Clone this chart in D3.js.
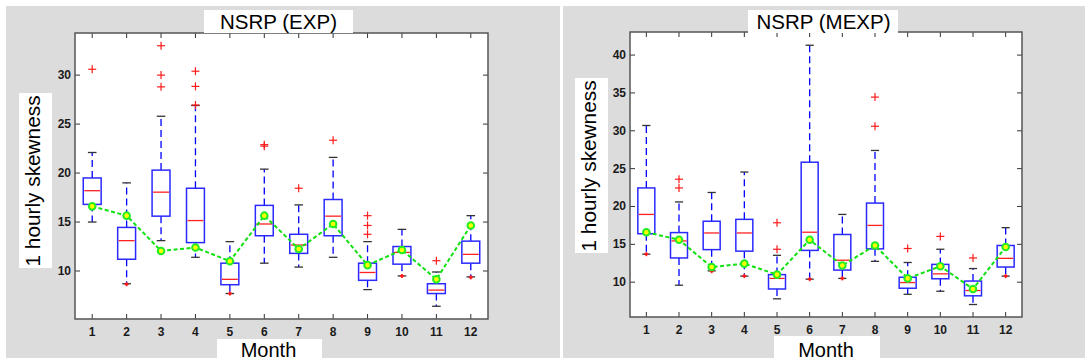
<!DOCTYPE html>
<html>
<head>
<meta charset="utf-8">
<script src="https://cdn.jsdelivr.net/npm/d3@7"></script>
<style>
  body { margin: 0; background: #fff; }
  text { font-family: "Liberation Sans", Arial, sans-serif; }
</style>
</head>
<body>
<div id="chart"></div>
<script>
// monthly 1 hourly skewness box plots, two NSRP variants

var months = [1, 2, 3, 4, 5, 6, 7, 8, 9, 10, 11, 12];

// NSRP (EXP)
var expLo   = [15.0, 8.7, 13.1, 11.4, 7.7, 10.8, 10.4, 11.4, 8.1, 9.5, 6.4, 9.4];
var expQ1   = [16.8, 11.2, 15.6, 12.9, 8.6, 13.6, 11.8, 13.6, 9.05, 10.7, 7.7, 10.8];
var expMed  = [18.2, 13.1, 18.05, 15.15, 9.15, 14.8, 12.65, 15.6, 9.85, 11.9, 8.05, 11.7];
var expQ3   = [19.5, 14.45, 20.3, 18.45, 10.8, 16.7, 13.75, 17.3, 10.8, 12.5, 8.7, 13.05];
var expHi   = [22.1, 19.0, 25.8, 26.9, 13.0, 20.4, 16.75, 21.6, 13.0, 14.25, 9.9, 15.65];
var expMean = [16.6, 15.65, 12.05, 12.4, 11.0, 15.65, 12.25, 14.8, 10.6, 12.15, 9.15, 14.65];
var expOut  = [[30.6], [], [33.0, 30.0, 28.8], [30.4, 28.85, 26.95], [], [22.9, 22.75], [18.45], [23.35], [15.65, 14.65, 13.75], [], [11.05], []];
var expLowMark = [null, 8.65, null, null, 7.7, null, null, null, null, 9.5, null, 9.35];
var expTicks = [10, 15, 20, 25, 30];

// NSRP (MEXP)
var mexpLo   = [13.7, 9.6, 11.5, 10.8, 7.8, 10.4, 10.5, 12.75, 8.4, 8.8, 7.05, 10.8];
var mexpQ1   = [16.4, 13.2, 14.3, 14.1, 9.1, 14.2, 11.6, 14.4, 9.2, 10.45, 8.2, 12.0];
var mexpMed  = [18.95, 15.45, 16.5, 16.5, 10.5, 16.6, 12.9, 17.5, 9.95, 11.1, 8.9, 13.15];
var mexpQ3   = [22.45, 16.55, 18.05, 18.3, 11.0, 25.85, 16.3, 20.45, 10.65, 12.35, 10.15, 14.85];
var mexpHi   = [30.7, 20.6, 21.85, 24.55, 13.55, 41.3, 18.95, 27.4, 12.6, 14.35, 11.8, 17.2];
var mexpMean = [16.6, 15.6, 12.0, 12.45, 11.0, 15.6, 12.2, 14.85, 10.5, 12.1, 9.1, 14.65];
var mexpOut  = [[], [23.6, 22.45], [], [], [17.85, 14.35], [], [], [34.45, 30.6], [14.45], [16.05], [13.2], []];
var mexpLowMark = [13.7, null, 11.45, 10.8, null, 10.4, 10.5, null, null, null, null, 10.8];
var mexpTicks = [10, 15, 20, 25, 30, 35, 40];

var svg = d3.select("#chart").append("svg")
  .attr("width", 1085)
  .attr("height", 362);

function toRows(lo, q1, med, q3, hi, mean, out, lowMark) {
  return months.map(function (m, i) {
    return { month: m, lo: lo[i], q1: q1[i], med: med[i], q3: q3[i], hi: hi[i],
             mean: mean[i], out: out[i], lowMark: lowMark[i] };
  });
}

function drawPanel(p) {
  var g = svg.append("g");

  // gray figure background
  g.append("rect")
    .attr("x", p.bg[0]).attr("y", p.bg[1])
    .attr("width", p.bg[2]).attr("height", p.bg[3])
    .attr("fill", "#dcdcdc");

  var x = d3.scaleLinear().domain([0.5, 12.5]).range([p.left, p.right]);
  var y = d3.scaleLinear().domain(p.yDomain).range([p.bottom, p.top]);
  var step = x(2) - x(1);
  var bw = step * 0.52;
  var cw = step * 0.25;

  // axes area
  g.append("rect")
    .attr("x", p.left).attr("y", p.top)
    .attr("width", p.right - p.left).attr("height", p.bottom - p.top)
    .attr("fill", "#fff");

  // inward ticks, all four sides
  var tk = g.append("g").attr("stroke", "#333").attr("stroke-width", 1);
  months.forEach(function (m) {
    tk.append("line").attr("x1", x(m)).attr("x2", x(m)).attr("y1", p.bottom).attr("y2", p.bottom - 5);
    tk.append("line").attr("x1", x(m)).attr("x2", x(m)).attr("y1", p.top).attr("y2", p.top + 5);
  });
  p.ticks.forEach(function (t) {
    tk.append("line").attr("x1", p.left).attr("x2", p.left + 5).attr("y1", y(t)).attr("y2", y(t));
    tk.append("line").attr("x1", p.right).attr("x2", p.right - 5).attr("y1", y(t)).attr("y2", y(t));
  });

  // tick labels
  g.selectAll(".xl").data(months).enter().append("text")
    .attr("x", function (d) { return x(d); })
    .attr("y", p.bottom + 17)
    .attr("text-anchor", "middle")
    .attr("font-size", 12).attr("font-weight", "bold").attr("fill", "#1a1a1a")
    .text(function (d) { return d; });
  g.selectAll(".yl").data(p.ticks).enter().append("text")
    .attr("x", p.left - 4)
    .attr("y", function (d) { return y(d) + 4; })
    .attr("text-anchor", "end")
    .attr("font-size", 12).attr("font-weight", "bold").attr("fill", "#1a1a1a")
    .text(function (d) { return d; });

  var boxes = g.selectAll(".box").data(p.rows).enter().append("g");

  // whiskers
  boxes.append("line")
    .attr("x1", function (d) { return x(d.month); }).attr("x2", function (d) { return x(d.month); })
    .attr("y1", function (d) { return y(d.q3); }).attr("y2", function (d) { return y(d.hi); })
    .attr("stroke", "#0000ff").attr("stroke-width", 1.3).attr("stroke-dasharray", "7,4");
  boxes.append("line")
    .attr("x1", function (d) { return x(d.month); }).attr("x2", function (d) { return x(d.month); })
    .attr("y1", function (d) { return y(d.q1); }).attr("y2", function (d) { return y(d.lo); })
    .attr("stroke", "#0000ff").attr("stroke-width", 1.3).attr("stroke-dasharray", "7,4");
  boxes.append("line")
    .attr("x1", function (d) { return x(d.month) - cw / 2; }).attr("x2", function (d) { return x(d.month) + cw / 2; })
    .attr("y1", function (d) { return y(d.hi); }).attr("y2", function (d) { return y(d.hi); })
    .attr("stroke", "#333").attr("stroke-width", 1.3);
  boxes.append("line")
    .attr("x1", function (d) { return x(d.month) - cw / 2; }).attr("x2", function (d) { return x(d.month) + cw / 2; })
    .attr("y1", function (d) { return y(d.lo); }).attr("y2", function (d) { return y(d.lo); })
    .attr("stroke", "#333").attr("stroke-width", 1.3);

  // box
  boxes.append("rect")
    .attr("x", function (d) { return x(d.month) - bw / 2; })
    .attr("y", function (d) { return y(d.q3); })
    .attr("width", bw)
    .attr("height", function (d) { return y(d.q1) - y(d.q3); })
    .attr("fill", "#fff").attr("stroke", "#2a2aff").attr("stroke-width", 1.5);
  // median
  boxes.append("line")
    .attr("x1", function (d) { return x(d.month) - bw / 2 + 1; }).attr("x2", function (d) { return x(d.month) + bw / 2 - 1; })
    .attr("y1", function (d) { return y(d.med); }).attr("y2", function (d) { return y(d.med); })
    .attr("stroke", "#ff2020").attr("stroke-width", 1.3);

  // outliers
  var outs = [];
  p.rows.forEach(function (d) {
    d.out.forEach(function (v) { outs.push({ month: d.month, v: v, s: 4 }); });
    if (d.lowMark !== null) outs.push({ month: d.month, v: d.lowMark, s: 2 });
  });
  var og = g.selectAll(".out").data(outs).enter().append("g")
    .attr("transform", function (d) { return "translate(" + x(d.month) + "," + y(d.v) + ")"; })
    .attr("stroke", "#ff1a1a").attr("stroke-width", function (d) { return d.s > 2 ? 1.2 : 1.8; });
  og.append("line").attr("x1", function (d) { return -d.s; }).attr("x2", function (d) { return d.s; });
  og.append("line").attr("y1", function (d) { return -d.s; }).attr("y2", function (d) { return d.s; });

  // mean line
  var line = d3.line()
    .x(function (d) { return x(d.month); })
    .y(function (d) { return y(d.mean); });
  g.append("path")
    .datum(p.rows)
    .attr("d", line)
    .attr("fill", "none").attr("stroke", "#11e011").attr("stroke-width", 2).attr("stroke-dasharray", "4,2.5");
  g.selectAll(".mean").data(p.rows).enter().append("circle")
    .attr("cx", function (d) { return x(d.month); })
    .attr("cy", function (d) { return y(d.mean); })
    .attr("r", 3.3)
    .attr("fill", "#ffff00").attr("stroke", "#22ee22").attr("stroke-width", 2);

  // frame
  g.append("rect")
    .attr("x", p.left).attr("y", p.top)
    .attr("width", p.right - p.left).attr("height", p.bottom - p.top)
    .attr("fill", "none").attr("stroke", "#555").attr("stroke-width", 1.5);

  // title
  g.append("rect")
    .attr("x", p.titleBox[0]).attr("y", p.titleBox[1])
    .attr("width", p.titleBox[2]).attr("height", p.titleBox[3])
    .attr("fill", "#fff");
  g.append("text")
    .attr("x", p.titleCx)
    .attr("y", p.titleBox[1] + 18.5)
    .attr("text-anchor", "middle")
    .attr("font-size", 20.5).attr("fill", "#000")
    .text(p.title);

  // y label
  g.append("rect")
    .attr("x", p.yBox[0]).attr("y", p.yBox[1])
    .attr("width", p.yBox[2]).attr("height", p.yBox[3])
    .attr("fill", "#fff");
  g.append("text")
    .attr("transform", "translate(" + p.yLabelX + "," + p.yLabelCy + ") rotate(-90)")
    .attr("text-anchor", "middle")
    .attr("font-size", 20.8).attr("fill", "#000")
    .text("1 hourly skewness");

  // x label
  g.append("rect")
    .attr("x", p.xBox[0]).attr("y", p.xBox[1])
    .attr("width", p.xBox[2]).attr("height", p.xBox[3])
    .attr("fill", "#fff");
  g.append("text")
    .attr("x", p.xLabelCx)
    .attr("y", 357)
    .attr("text-anchor", "middle")
    .attr("font-size", 20).attr("fill", "#000")
    .text("Month");
}

drawPanel({
  bg: [6, 6, 554, 352],
  left: 75, right: 488, top: 33, bottom: 319,
  yDomain: [5.1, 34.3],
  ticks: expTicks,
  rows: toRows(expLo, expQ1, expMed, expQ3, expHi, expMean, expOut, expLowMark),
  title: "NSRP (EXP)",
  titleBox: [204, 10, 149, 23],
  titleCx: 278.5,
  yBox: [19, 93, 33, 175],
  yLabelX: 40,
  yLabelCy: 181,
  xBox: [217, 339, 105, 23],
  xLabelCx: 268.5
});

drawPanel({
  bg: [563, 6, 522, 352],
  left: 630, right: 1022, top: 32, bottom: 317,
  yDomain: [5.4, 43.05],
  ticks: mexpTicks,
  rows: toRows(mexpLo, mexpQ1, mexpMed, mexpQ3, mexpHi, mexpMean, mexpOut, mexpLowMark),
  title: "NSRP (MEXP)",
  titleBox: [748, 10, 150, 23],
  titleCx: 823.5,
  yBox: [575, 78, 33, 175],
  yLabelX: 596,
  yLabelCy: 166,
  xBox: [774, 336, 106, 26],
  xLabelCx: 826
});
</script>
</body>
</html>
